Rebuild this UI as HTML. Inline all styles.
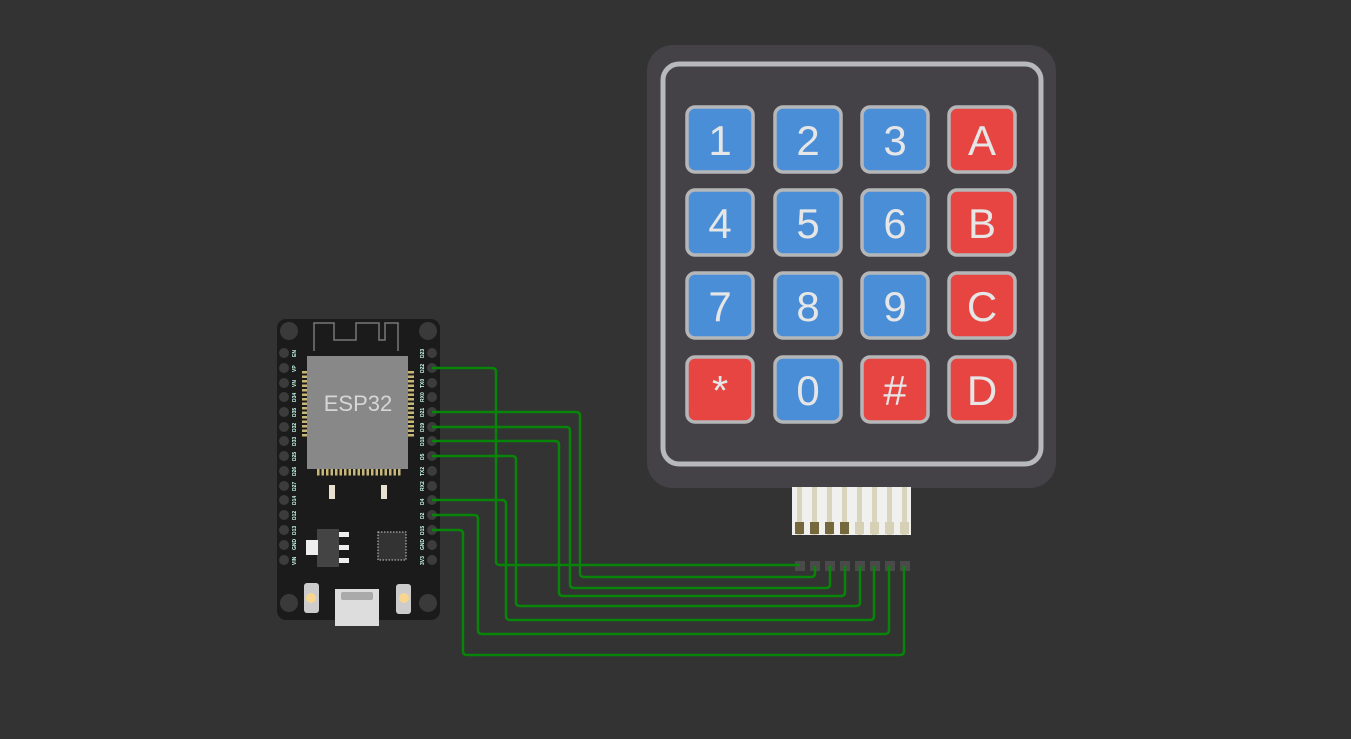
<!DOCTYPE html>
<html><head><style>html,body{margin:0;padding:0;background:#333333;}svg{display:block}</style></head>
<body>
<svg width="1351" height="739" viewBox="0 0 1351 739" xmlns="http://www.w3.org/2000/svg" font-family="Liberation Sans, sans-serif">
<rect width="1351" height="739" fill="#333333"/>
<!-- keypad -->
<rect x="647" y="45" width="409" height="443" rx="26" fill="#444247"/>
<rect x="663" y="64" width="378" height="400" rx="16" fill="none" stroke="#b8b9bc" stroke-width="5"/>
<g font-size="42" fill="#e6e6e6" text-anchor="middle">
<g stroke="#b4b6b8" stroke-width="3.5">
<rect x="687" y="107" width="66" height="65" rx="8" fill="#4a8ed8"/>
<rect x="775" y="107" width="66" height="65" rx="8" fill="#4a8ed8"/>
<rect x="862" y="107" width="66" height="65" rx="8" fill="#4a8ed8"/>
<rect x="949" y="107" width="66" height="65" rx="8" fill="#e64542"/>
<rect x="687" y="190" width="66" height="65" rx="8" fill="#4a8ed8"/>
<rect x="775" y="190" width="66" height="65" rx="8" fill="#4a8ed8"/>
<rect x="862" y="190" width="66" height="65" rx="8" fill="#4a8ed8"/>
<rect x="949" y="190" width="66" height="65" rx="8" fill="#e64542"/>
<rect x="687" y="273" width="66" height="65" rx="8" fill="#4a8ed8"/>
<rect x="775" y="273" width="66" height="65" rx="8" fill="#4a8ed8"/>
<rect x="862" y="273" width="66" height="65" rx="8" fill="#4a8ed8"/>
<rect x="949" y="273" width="66" height="65" rx="8" fill="#e64542"/>
<rect x="687" y="357" width="66" height="65" rx="8" fill="#e64542"/>
<rect x="775" y="357" width="66" height="65" rx="8" fill="#4a8ed8"/>
<rect x="862" y="357" width="66" height="65" rx="8" fill="#e64542"/>
<rect x="949" y="357" width="66" height="65" rx="8" fill="#e64542"/>
</g>
<text x="720" y="155">1</text><text x="808" y="155">2</text><text x="895" y="155">3</text><text x="982" y="155">A</text>
<text x="720" y="238">4</text><text x="808" y="238">5</text><text x="895" y="238">6</text><text x="982" y="238">B</text>
<text x="720" y="321">7</text><text x="808" y="321">8</text><text x="895" y="321">9</text><text x="982" y="321">C</text>
<text x="720" y="405">*</text><text x="808" y="405">0</text><text x="895" y="405">#</text><text x="982" y="405">D</text>
</g>
<!-- connector -->
<rect x="792" y="487" width="119" height="48" fill="#f0f0ee"/>
<g fill="#d9d4bc">
<rect x="797" y="487" width="5" height="48"/><rect x="812" y="487" width="5" height="48"/><rect x="827" y="487" width="5" height="48"/><rect x="842" y="487" width="5" height="48"/>
<rect x="857" y="487" width="5" height="48"/><rect x="872" y="487" width="5" height="48"/><rect x="887" y="487" width="5" height="48"/><rect x="902" y="487" width="5" height="48"/>
</g>
<g fill="#75683d"><rect x="795" y="522" width="9" height="12"/><rect x="810" y="522" width="9" height="12"/><rect x="825" y="522" width="9" height="12"/><rect x="840" y="522" width="9" height="12"/></g>
<g fill="#d6d0b6"><rect x="855" y="522" width="9" height="12"/><rect x="870" y="522" width="9" height="12"/><rect x="885" y="522" width="9" height="12"/><rect x="900" y="522" width="9" height="12"/></g>
<g fill="#4a4a4a"><rect x="795" y="561" width="10" height="10"/><rect x="810" y="561" width="10" height="10"/><rect x="825" y="561" width="10" height="10"/><rect x="840" y="561" width="10" height="10"/><rect x="855" y="561" width="10" height="10"/><rect x="870" y="561" width="10" height="10"/><rect x="885" y="561" width="10" height="10"/><rect x="900" y="561" width="10" height="10"/></g>
<!-- board -->
<rect x="277" y="319" width="163" height="301" rx="9" fill="#1b1b1b"/>
<g fill="#3a3a3a"><circle cx="289" cy="331" r="9"/><circle cx="428" cy="331" r="9"/><circle cx="289" cy="603" r="9"/><circle cx="428" cy="603" r="9"/></g>
<path d="M314 351 V323 H334 V340 H356 V323 H379 V340 H385 V323 H398 V351" fill="none" stroke="#777" stroke-width="1.5"/>
<g fill="#3c3c3c">
<circle cx="284" cy="353" r="5"/><circle cx="284" cy="368" r="5"/><circle cx="284" cy="383" r="5"/><circle cx="284" cy="397" r="5"/><circle cx="284" cy="412" r="5"/><circle cx="284" cy="427" r="5"/><circle cx="284" cy="441" r="5"/><circle cx="284" cy="456" r="5"/><circle cx="284" cy="471" r="5"/><circle cx="284" cy="486" r="5"/><circle cx="284" cy="500" r="5"/><circle cx="284" cy="515" r="5"/><circle cx="284" cy="530" r="5"/><circle cx="284" cy="545" r="5"/><circle cx="284" cy="560" r="5"/>
<circle cx="432" cy="353" r="5"/><circle cx="432" cy="368" r="5"/><circle cx="432" cy="383" r="5"/><circle cx="432" cy="397" r="5"/><circle cx="432" cy="412" r="5"/><circle cx="432" cy="427" r="5"/><circle cx="432" cy="441" r="5"/><circle cx="432" cy="456" r="5"/><circle cx="432" cy="471" r="5"/><circle cx="432" cy="486" r="5"/><circle cx="432" cy="500" r="5"/><circle cx="432" cy="515" r="5"/><circle cx="432" cy="530" r="5"/><circle cx="432" cy="545" r="5"/><circle cx="432" cy="560" r="5"/>
</g>
<g stroke="#c8b878" stroke-width="6" stroke-dasharray="2.5 2">
<line x1="305" y1="371" x2="305" y2="437"/><line x1="411" y1="371" x2="411" y2="437"/>
</g>
<line x1="317" y1="472" x2="401" y2="472" stroke="#c8b878" stroke-width="7" stroke-dasharray="2.5 2"/>
<rect x="307" y="356" width="101" height="113" fill="#888888"/>
<text x="358" y="411" font-size="22" fill="#d6d6d6" text-anchor="middle">ESP32</text>
<rect x="329" y="485" width="6" height="14" fill="#e8e0d0"/><rect x="381" y="485" width="6" height="14" fill="#e8e0d0"/>
<rect x="317" y="529" width="22" height="38" fill="#444"/><rect x="306" y="540" width="12" height="15" fill="#eee"/>
<g fill="#eee"><rect x="339" y="532" width="10" height="5"/><rect x="339" y="545" width="10" height="5"/><rect x="339" y="558" width="10" height="5"/></g>
<rect x="378" y="532" width="28" height="28" fill="#333" stroke="#ccc" stroke-width="1" stroke-dasharray="1.5 1.5"/>
<rect x="335" y="589" width="44" height="37" fill="#ddd"/>
<rect x="341" y="592" width="32" height="8" rx="2" fill="#aaa"/>
<rect x="304" y="583" width="15" height="30" rx="3" fill="#ccc"/><circle cx="311" cy="598" r="5" fill="#f8d690"/>
<rect x="396" y="584" width="15" height="30" rx="3" fill="#ccc"/><circle cx="404" cy="598" r="5" fill="#f8d690"/>
<g font-size="5" fill="#cfe" font-weight="bold">
<text transform="translate(296,357) rotate(-90)">EN</text><text transform="translate(296,372) rotate(-90)">VP</text><text transform="translate(296,387) rotate(-90)">VN</text><text transform="translate(296,402) rotate(-90)">D34</text><text transform="translate(296,417) rotate(-90)">D35</text><text transform="translate(296,432) rotate(-90)">D32</text><text transform="translate(296,446) rotate(-90)">D33</text><text transform="translate(296,461) rotate(-90)">D25</text><text transform="translate(296,476) rotate(-90)">D26</text><text transform="translate(296,491) rotate(-90)">D27</text><text transform="translate(296,505) rotate(-90)">D14</text><text transform="translate(296,520) rotate(-90)">D12</text><text transform="translate(296,535) rotate(-90)">D13</text><text transform="translate(296,550) rotate(-90)">GND</text><text transform="translate(296,565) rotate(-90)">VIN</text>
<text transform="translate(424,358) rotate(-90)">D23</text><text transform="translate(424,373) rotate(-90)">D22</text><text transform="translate(424,388) rotate(-90)">TX0</text><text transform="translate(424,402) rotate(-90)">RX0</text><text transform="translate(424,417) rotate(-90)">D21</text><text transform="translate(424,432) rotate(-90)">D19</text><text transform="translate(424,446) rotate(-90)">D18</text><text transform="translate(424,460) rotate(-90)">D5</text><text transform="translate(424,476) rotate(-90)">TX2</text><text transform="translate(424,491) rotate(-90)">RX2</text><text transform="translate(424,505) rotate(-90)">D4</text><text transform="translate(424,519) rotate(-90)">D2</text><text transform="translate(424,535) rotate(-90)">D15</text><text transform="translate(424,550) rotate(-90)">GND</text><text transform="translate(424,565) rotate(-90)">3V3</text>
</g>
<!-- wires -->
<g fill="none" stroke="#088408" stroke-width="2.5" stroke-linejoin="round">
<path d="M432 368 H492 Q496 368 496 372 V561 Q496 565 500 565 H800"/>
<path d="M432 412 H576 Q580 412 580 416 V573 Q580 577 584 577 H811 Q815 577 815 573 V566"/>
<path d="M432 427 H566 Q570 427 570 431 V584 Q570 588 574 588 H826 Q830 588 830 584 V566"/>
<path d="M432 441 H555 Q559 441 559 445 V592 Q559 596 563 596 H841 Q845 596 845 592 V566"/>
<path d="M432 456 H512 Q516 456 516 460 V602 Q516 606 520 606 H856 Q860 606 860 602 V566"/>
<path d="M432 500 H502 Q506 500 506 504 V616 Q506 620 510 620 H870 Q874 620 874 616 V566"/>
<path d="M432 515 H474 Q478 515 478 519 V630 Q478 634 482 634 H885 Q889 634 889 630 V566"/>
<path d="M432 530 H459 Q463 530 463 534 V651 Q463 655 467 655 H900 Q904 655 904 651 V566"/>
</g>
</svg>
</body></html>
